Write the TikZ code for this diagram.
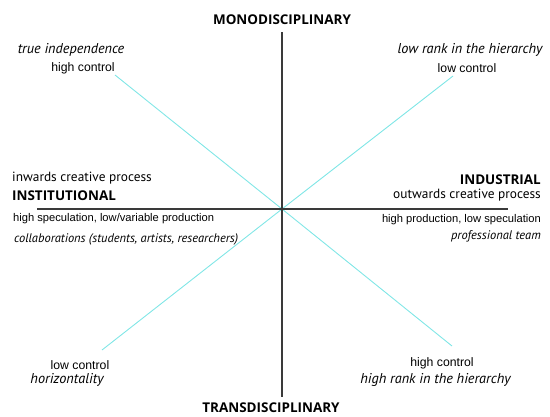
\documentclass[tikz,border=0pt]{standalone}
\usepackage{fontspec}
\setmainfont{PT Sans}
\newfontfamily\headfont{Open Sans}
\newfontfamily\arialfont{Liberation Sans}
\usetikzlibrary{positioning}
\definecolor{axisgray}{HTML}{3A3A3A}
\definecolor{diagcyan}{HTML}{80E6E6}

\begin{document}
\begin{tikzpicture}[x=1bp,y=-1bp,
  axis/.style={draw=axisgray,line width=1.1bp},
  diag/.style={draw=diagcyan,line width=0.9bp},
  head/.style={font=\headfont\bfseries\fontsize{13.5}{15}\selectfont,inner sep=0pt},
  ital/.style={font=\itshape\fontsize{12.5}{14}\selectfont,inner sep=0pt},
  italbig/.style={font=\itshape\fontsize{14.3}{16}\selectfont,inner sep=0pt},
  plain/.style={font=\arialfont\fontsize{11.2}{13}\selectfont,inner sep=0pt},
  plainbig/.style={font=\arialfont\fontsize{12.3}{14}\selectfont,inner sep=0pt},
  myr/.style={font=\fontsize{13.4}{15}\selectfont,inner sep=0pt}]
\useasboundingbox (0,0) rectangle (550,416);
  \coordinate (o) at (282,209);
  \coordinate (top) at (282,32);
  \coordinate (bot) at (282,397);
  \coordinate (left) at (37,209);
  \coordinate (right) at (508,209);
  \coordinate (ul) at (115,75);
  \coordinate (ur) at (453,76);
  \coordinate (ll) at (102,350);
  \coordinate (lr) at (452,346);
    % diagonals
    \draw[diag] (ul) -- (o) -- (lr);
    \draw[diag] (ll) -- (o) -- (ur);
    % axes
    \draw[axis] (top) -- (bot);
    \draw[axis] (left) -- (right);
      \node[head] (mono) at (282,20) {MONODISCIPLINARY};
      \node[head] (trans) at (271,408) {TRANSDISCIPLINARY};
      \node[italbig] (trueind) at (71,50) {true independence};
      \node[plainbig] (hcul) at (83,68) {high control};
      \node[italbig] (lowrank) at (470,50) {low rank in the hierarchy};
      \node[plainbig] (lcur) at (467,68) {low control};
      \node[myr,anchor=west] (inwards) at (12,178) {inwards creative process};
      \node[head,anchor=west] (inst) at (12,196) {INSTITUTIONAL};
      \node[plain,anchor=west] (hspec) at (13,219) {high speculation, low/variable production};
      \node[ital,anchor=west] (collab) at (14,239) {collaborations (students, artists, researchers)};
      \node[head,anchor=east] (indus) at (541,180) {INDUSTRIAL};
      \node[myr,anchor=east] (outwards) at (541,195) {outwards creative process};
      \node[plain,anchor=east] (hprod) at (541,220) {high production, low speculation};
      \node[ital,anchor=east] (proteam) at (541,236) {professional team};
      \node[plainbig] (lcll) at (80,365) {low control};
      \node[italbig] (horiz) at (67,380) {horizontality};
      \node[plainbig] (hclr) at (442,363) {high control};
      \node[italbig] (highrank) at (435.5,380) {high rank in the hierarchy};
\end{tikzpicture}
\end{document}
